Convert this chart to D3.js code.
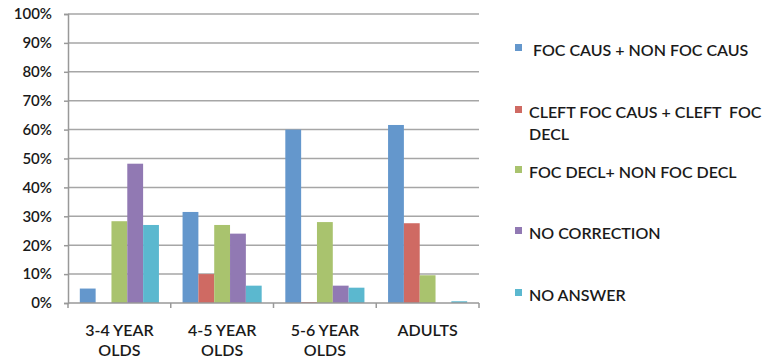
<!DOCTYPE html>
<html>
<head>
<meta charset="utf-8">
<script src="https://cdn.jsdelivr.net/npm/d3@7"></script>
<style>
  body { margin: 0; background: #fff; }
  text { font-family: Lato, "Open Sans", sans-serif; fill: #1a1a1a; }
</style>
</head>
<body>
<div id="chart"></div>
<script>
// categories and series
var categories = ["3-4 YEAR|OLDS", "4-5 YEAR|OLDS", "5-6 YEAR|OLDS", "ADULTS"];
var seriesNames = [" FOC CAUS + NON FOC CAUS", "CLEFT FOC CAUS + CLEFT  FOC|DECL", "FOC DECL+ NON FOC DECL", "NO CORRECTION", "NO ANSWER"];
var seriesColors = ["#6497cc", "#cf6a63", "#a9c36e", "#9179b3", "#5bb8cf"];
// values in percent, one array per series
var focCaus = [5, 31.5, 60, 61.6];
var cleftFoc = [0, 10, 0.3, 27.6];
var focDecl = [28.3, 27, 28, 9.6];
var noCorrection = [48.2, 24, 6, 0];
var noAnswer = [27, 6, 5.3, 0.6];
var yTicks = [0, 10, 20, 30, 40, 50, 60, 70, 80, 90, 100];

var values = [focCaus, cleftFoc, focDecl, noCorrection, noAnswer];

var svgWidth = 763, svgHeight = 362;
var margin = { top: 14, left: 68, right: 284, bottom: 59 };
var width = svgWidth - margin.left - margin.right;
var height = svgHeight - margin.top - margin.bottom;

var svg = d3.select("#chart").append("svg")
  .attr("width", svgWidth)
  .attr("height", svgHeight);

var chart = svg.append("g")
  .attr("transform", `translate(${margin.left}, ${margin.top})`);

var x0 = d3.scaleBand()
  .domain(categories)
  .range([0, width])
  .paddingInner(0.23)
  .paddingOuter(0.115);

var x1 = d3.scaleBand()
  .domain(d3.range(seriesNames.length))
  .range([0, x0.bandwidth()]);

var y = d3.scaleLinear().domain([0, 100]).range([height, 0]);

// gridlines
chart.selectAll(".grid")
  .data(yTicks.slice(1))
  .enter()
  .append("line")
  .attr("x1", 0)
  .attr("x2", width)
  .attr("y1", d => y(d))
  .attr("y2", d => y(d))
  .attr("stroke", "#a6a6a6")
  .attr("stroke-width", 1.5);

// bars
categories.forEach(function(cat, ci) {
  var g = chart.append("g").attr("transform", `translate(${x0(cat)},0)`);
  values.forEach(function(arr, si) {
    g.append("rect")
      .attr("x", x1(si))
      .attr("width", x1.bandwidth())
      .attr("y", y(arr[ci]))
      .attr("height", height - y(arr[ci]))
      .attr("fill", seriesColors[si]);
  });
});

// y axis
var leftAxis = d3.axisLeft(y)
  .tickValues(yTicks)
  .tickFormat(d => d + "%")
  .tickSize(4)
  .tickPadding(12);

var yAxis = chart.append("g").call(leftAxis);
yAxis.select(".domain").attr("stroke", "#999").attr("stroke-width", 1.5);
yAxis.selectAll(".tick line").attr("stroke", "#999").attr("stroke-width", 1.5);
yAxis.selectAll("text")
  .attr("font-size", "15px")
  .attr("font-weight", "600")
  .style("font-family", "Lato, 'Open Sans', sans-serif")
  .attr("fill", "#1a1a1a");

// x axis line and boundary ticks
chart.append("line")
  .attr("x1", 0).attr("x2", width)
  .attr("y1", height).attr("y2", height)
  .attr("stroke", "#999").attr("stroke-width", 1.5);

var step = width / categories.length;
chart.selectAll(".xtick")
  .data(d3.range(categories.length + 1))
  .enter()
  .append("line")
  .attr("x1", d => d * step).attr("x2", d => d * step)
  .attr("y1", height).attr("y2", height + 5)
  .attr("stroke", "#999").attr("stroke-width", 1.5);

// category labels
chart.selectAll(".xlab")
  .data(categories)
  .enter()
  .append("text")
  .attr("x", d => x0(d) + x0.bandwidth() / 2)
  .attr("y", height + 33)
  .attr("text-anchor", "middle")
  .attr("font-size", "16px")
  .attr("font-weight", "600")
  .each(function(d) {
    var parts = d.split("|");
    var t = d3.select(this);
    parts.forEach(function(p, i) {
      t.append("tspan")
        .attr("x", x0(d) + x0.bandwidth() / 2)
        .attr("dy", i === 0 ? 0 : 20)
        .text(p);
    });
  });

// legend
var legendY = [50, 112, 172, 233, 295];
var legend = svg.append("g");
seriesNames.forEach(function(name, i) {
  legend.append("rect")
    .attr("x", 515)
    .attr("y", legendY[i] - 6)
    .attr("width", 7)
    .attr("height", 7)
    .attr("fill", seriesColors[i]);
  var t = legend.append("text")
    .attr("x", 529)
    .attr("y", legendY[i] + 6)
    .attr("font-size", "16px")
    .attr("font-weight", "600");
  name.split("|").forEach(function(p, j) {
    t.append("tspan")
      .attr("x", 529)
      .attr("dy", j === 0 ? 0 : 22)
      .style("white-space", "pre")
      .text(p);
  });
});
</script>
</body>
</html>
